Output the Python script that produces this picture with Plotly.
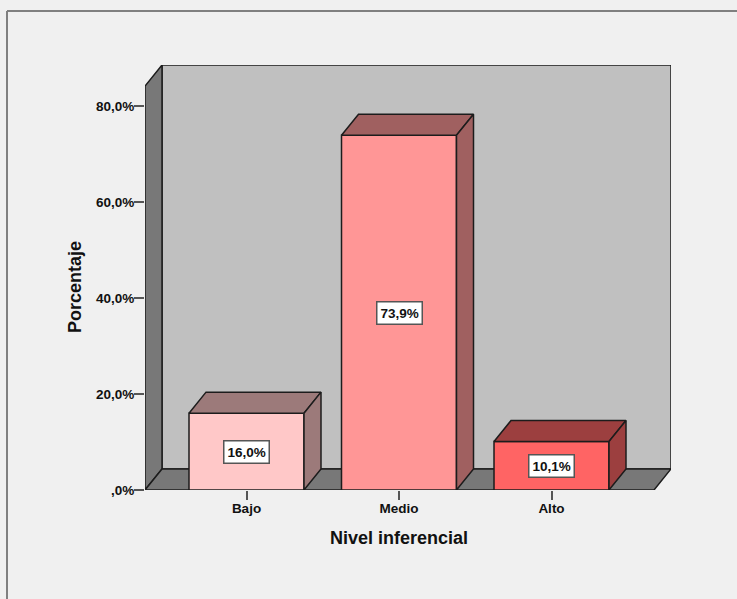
import plotly.graph_objects as go

categories = ["Bajo", "Medio", "Alto"]
values = [16.0, 73.9, 10.1]
value_labels = ["16,0%", "73,9%", "10,1%"]
front_colors = ["#FFC8C8", "#FF9696", "#FF6464"]
shade_colors = ["#9C7A7A", "#A06060", "#9C3F3F"]
y_ticks = [0, 20, 40, 60, 80]
y_tick_labels = [",0%", "20,0%", "40,0%", "60,0%", "80,0%"]
x_title = "Nivel inferencial"
y_title = "Porcentaje"

W, H = 737, 599
BASE_PX = 490
TOP_PX = 65
X_MIN, X_MAX = -0.6656, 2.7836
Y_MAX = 88.54
DX, DY = 0.1115, 4.39
BAR_W = 0.754
FLOOR_R = X_MAX - DX
EDGE = "#1c1c1c"
FONT = "Liberation Sans"
x_pos = list(range(len(categories)))
PW, PH = 671 - 145, BASE_PX - TOP_PX


def poly(points, fill, layer="below"):
    path = "M " + " L ".join(f"{x},{y}" for x, y in points) + " Z"
    return dict(type="path", xref="x", yref="y", path=path, fillcolor=fill,
                line=dict(color=EDGE, width=1.5), layer=layer)


shapes = [
    poly([(X_MIN + DX, DY), (X_MAX, DY), (X_MAX, Y_MAX), (X_MIN + DX, Y_MAX)], "#C0C0C0"),
    poly([(X_MIN, 0), (X_MIN + DX, DY), (X_MIN + DX, Y_MAX), (X_MIN, Y_MAX - DY)], "#787878"),
    poly([(X_MIN, 0), (FLOOR_R, 0), (X_MAX, DY), (X_MIN + DX, DY)], "#787878"),
    dict(type="line", xref="paper", yref="paper", x0=(7 - 145) / PW, x1=(W - 145) / PW,
         y0=(BASE_PX - 11) / PH, y1=(BASE_PX - 11) / PH, line=dict(color="#808080", width=2)),
    dict(type="line", xref="paper", yref="paper", x0=(7 - 145) / PW, x1=(7 - 145) / PW,
         y0=(BASE_PX - 11) / PH, y1=(BASE_PX - H) / PH, line=dict(color="#808080", width=2)),
]

fig = go.Figure()
fig.add_trace(go.Bar(x=x_pos, y=values, width=BAR_W, marker=dict(color=front_colors, line=dict(color=EDGE, width=1.5)),
                     hoverinfo="skip", showlegend=False))

for x, v, shade in zip(x_pos, values, shade_colors):
    l, r = x - BAR_W / 2, x + BAR_W / 2
    fig.add_trace(go.Scatter(x=[l, l + DX, r + DX, r, l], y=[v, v + DY, v + DY, v, v], mode="lines", fill="toself",
                             fillcolor=shade, line=dict(color=EDGE, width=1.5), hoverinfo="skip", showlegend=False))
    fig.add_trace(go.Scatter(x=[r, r + DX, r + DX, r, r], y=[v, v + DY, DY, 0, v], mode="lines", fill="toself",
                             fillcolor=shade, line=dict(color=EDGE, width=1.5), hoverinfo="skip", showlegend=False))

annotations = [
    dict(x=x, y=v / 2, text=f"<b>{t}</b>", showarrow=False, bgcolor="#FFFFFF", bordercolor="#555555", borderwidth=1.5,
         borderpad=3, font=dict(family=FONT, size=13.5, color="#111111"))
    for x, v, t in zip(x_pos, values, value_labels)
]
annotations.append(dict(x=1, xref="x", y=(BASE_PX - 538) / PH, yref="paper", xanchor="center", yanchor="middle",
                        text=f"<b>{x_title}</b>", showarrow=False,
                        font=dict(family=FONT, size=18, color="#111111")))
annotations.append(dict(x=(75 - 145) / PW, xref="paper", y=42.3, yref="y", xanchor="center", yanchor="middle",
                        text=f"<b>{y_title}</b>", showarrow=False,
                        textangle=-90, font=dict(family=FONT, size=18, color="#111111")))

fig.update_layout(
    width=W, height=H, margin=dict(l=145, r=W - 671, t=TOP_PX, b=H - BASE_PX, autoexpand=False),
    paper_bgcolor="#F0F0F0", plot_bgcolor="#F0F0F0", showlegend=False,
    shapes=shapes, annotations=annotations,
    font=dict(family=FONT, size=13.5, color="#111111"),
    xaxis=dict(range=[X_MIN, X_MAX], tickmode="array", tickvals=x_pos,
               ticktext=[f"<b>{c}</b>" for c in categories], ticks="outside", ticklen=9, tickwidth=1.5,
               tickcolor="#555555", showgrid=False, zeroline=False, showline=False, ticklabelstandoff=-3),
    yaxis=dict(range=[0, Y_MAX], tickmode="array", tickvals=y_ticks,
               ticktext=[f"<b>{t}</b>" for t in y_tick_labels], ticks="outside", ticklen=10, tickwidth=1.5,
               tickcolor="#555555", showgrid=False, zeroline=False, showline=False, ticklabelstandoff=-3),
)

fig.write_html("out.html", config={"displayModeBar": False},
               post_script="document.body.style.margin='0';document.body.style.background='#F0F0F0';")
